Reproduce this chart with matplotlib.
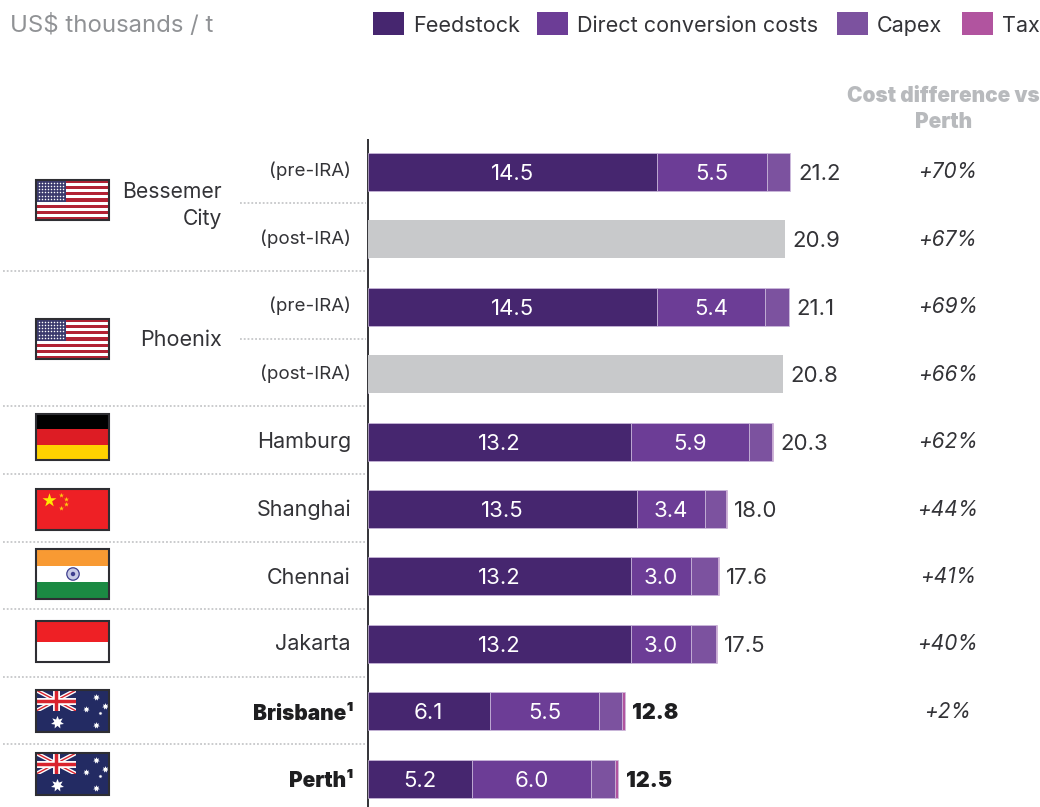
import numpy as np
import matplotlib
matplotlib.use("Agg")
import matplotlib.pyplot as plt
from matplotlib.patches import Rectangle, Circle

plt.rcParams["font.family"] = ["Inter", "DejaVu Sans"]

# ---------------- DATA ----------------
rows       = ["Bessemer pre", "Bessemer post", "Phoenix pre", "Phoenix post", "Hamburg",
              "Shanghai", "Chennai", "Jakarta", "Brisbane", "Perth"]
feedstock  = [14.5, 0, 14.5, 0, 13.2, 13.5, 13.2, 13.2, 6.1, 5.2]
direct     = [5.5, 0, 5.4, 0, 5.9, 3.4, 3.0, 3.0, 5.5, 6.0]
capex      = [1.15, 0, 1.2, 0, 1.15, 1.05, 1.35, 1.25, 1.15, 1.2]
tax        = [0.03, 0, 0.03, 0, 0.05, 0.05, 0.05, 0.05, 0.15, 0.15]
grey_total = [0, 20.9, 0, 20.8, 0, 0, 0, 0, 0, 0]
totals     = [21.2, 20.9, 21.1, 20.8, 20.3, 18.0, 17.6, 17.5, 12.8, 12.5]
diffs      = ["+70%", "+67%", "+69%", "+66%", "+62%", "+44%", "+41%", "+40%", "+2%", ""]
series     = ["Feedstock", "Direct conversion costs", "Capex", "Tax"]
colors     = ["#46266F", "#6C3D96", "#7C529F", "#B1549F"]

TXT = "#333337"
W, H = 1040, 807

fig = plt.figure(figsize=(W / 100, H / 100), dpi=100)

# capa en pixeles para textos, banderas y lineas punteadas
px = fig.add_axes([0, 0, 1, 1])
px.set_xlim(0, W); px.set_ylim(H, 0); px.axis("off")

# ---------------- BARRAS ----------------
x0, y_top, y_bot = 368, 139, 807
ax = fig.add_axes([x0 / W, 0, (W - x0) / W, (y_bot - y_top) / H])
ax.patch.set_alpha(0)
ax.set_xlim(0, (W - x0) / 19.93)
# fila i centrada en 172 + 67.4 * i px
ax.set_ylim((y_bot - 172) / 67.4, (y_top - 172) / 67.4)
ax.axis("off")
ys = np.arange(len(rows))

left = np.zeros(len(rows))
for vals, c in zip([feedstock, direct, capex, tax], colors):
    ax.barh(ys, vals, left=left, height=0.563, color=c, edgecolor="#CDBBDD", linewidth=0.5)
    left += np.array(vals)
ax.barh(ys, grey_total, height=0.563, color="#C8C9CB")

for i in ys:
    if feedstock[i] > 0:
        ax.text(feedstock[i] / 2, i + 0.03, f"{feedstock[i]:.1f}", color="white", fontsize=16,
                ha="center", va="center")
        ax.text(feedstock[i] + direct[i] / 2, i + 0.03, f"{direct[i]:.1f}", color="white", fontsize=16,
                ha="center", va="center")
    bold = rows[i] in ("Brisbane", "Perth")
    ax.annotate(f"{totals[i]:.1f}", (totals[i], i + 0.03), xytext=(6.5 if bold else 5.5, 0), textcoords="offset points",
                ha="left", va="center", fontsize=15.5 if bold else 16, color="#1E1E20" if bold else TXT,
                fontweight="black" if bold else "normal")
    if diffs[i]:
        px.text(948, 172.5 + 67.4 * i, diffs[i], style="italic", fontsize=15, ha="center",
                va="center", color=TXT)

# eje vertical
px.plot([x0, x0], [y_top, y_bot], color="#333337", lw=1.4, zorder=5, solid_capstyle="butt")

# punteadas
dot = dict(color="#C6C7C9", lw=1.3, ls=(0, (1, 1.1)), zorder=1)
for y in [271, 406, 474, 541.5, 609, 677, 744]:
    px.plot([3, x0 - 2], [y, y], **dot)
for y in [203, 339]:
    px.plot([240, x0 - 2], [y, y], **dot)

# ---------------- TEXTOS ----------------
lab = dict(ha="right", va="center", color=TXT)
px.text(351, 171, "(pre-IRA)", fontsize=13.5, **lab)
px.text(351, 239, "(post-IRA)", fontsize=13.5, **lab)
px.text(351, 306, "(pre-IRA)", fontsize=13.5, **lab)
px.text(351, 374, "(post-IRA)", fontsize=13.5, **lab)
px.text(222, 192.5, "Bessemer", fontsize=15.2, **lab)
px.text(222, 218.5, "City", fontsize=15.2, **lab)
px.text(222, 340.5, "Phoenix", fontsize=15.5, **lab)
for name, y in [("Hamburg", 442.5), ("Shanghai", 509.5), ("Chennai", 577.5), ("Jakarta", 644.5)]:
    px.text(351, y, name, fontsize=15.5, **lab)
for name, y in [("Brisbane¹", 714), ("Perth¹", 781)]:
    px.text(354, y, name, fontsize=15, ha="right", va="center", color="#1E1E20", fontweight="black")

px.text(10, 25.5, "US$ thousands / t", fontsize=17.2, color="#909295", va="center")
px.text(943.5, 95.5, "Cost difference vs", fontsize=15, color="#B8BABD", ha="center", va="center", fontweight="black")
px.text(944, 121.5, "Perth", fontsize=15, color="#B8BABD", ha="center", va="center", fontweight="black")

# leyenda
swatch_x = [373, 537, 837, 962]
for name, c, sx in zip(series, colors, swatch_x):
    px.add_patch(Rectangle((sx, 12), 31, 23, color=c, lw=0))
    px.text(sx + 40, 26, name, fontsize=15.5, color=TXT, va="center")


# ---------------- BANDERAS ----------------
FX, FW = 36, 73

def marco(y, h):
    px.add_patch(Rectangle((FX, y), FW, h, fill=False, ec="#2E2E33", lw=1.5, zorder=4))

def bandas(y, h, cols):
    for k, c in enumerate(cols):
        px.add_patch(Rectangle((FX, y + k * h / len(cols)), FW, h / len(cols), color=c, lw=0, zorder=2))

def usa(y, h):
    bandas(y, h, ["#B22234", "#FFFFFF"] * 6 + ["#B22234"])
    px.add_patch(Rectangle((FX, y), 30, h * 7 / 13, color="#3C3B6E", lw=0, zorder=3))
    gx, gy = np.meshgrid(np.linspace(FX + 3, FX + 27, 9), np.linspace(y + 2.5, y + h * 7 / 13 - 2.5, 6))
    px.scatter(gx, gy, s=1.2, color="white", lw=0, zorder=3.5)
    marco(y, h)

def australia(y, h):
    px.add_patch(Rectangle((FX, y), FW, h, color="#232B63", lw=0, zorder=2))
    ux, uy, uw, uh = FX, y, 40, 21
    clip = Rectangle((ux, uy), uw, uh, transform=px.transData)
    px.add_patch(Rectangle((ux, uy), uw, uh, color="#232B63", lw=0, zorder=2.1))
    for a, b, c, lw, z in [((ux, uy), (ux + uw, uy + uh), "white", 3, 2.2),
                           ((ux, uy + uh), (ux + uw, uy), "white", 3, 2.2),
                           ((ux, uy), (ux + uw, uy + uh), "#D9232E", 1, 2.3),
                           ((ux, uy + uh), (ux + uw, uy), "#D9232E", 1, 2.3),
                           ((ux + uw / 2, uy), (ux + uw / 2, uy + uh), "white", 5, 2.4),
                           ((ux, uy + uh / 2), (ux + uw, uy + uh / 2), "white", 5, 2.4),
                           ((ux + uw / 2, uy), (ux + uw / 2, uy + uh), "#D9232E", 2.5, 2.5),
                           ((ux, uy + uh / 2), (ux + uw, uy + uh / 2), "#D9232E", 2.5, 2.5)]:
        l, = px.plot([a[0], b[0]], [a[1], b[1]], color=c, lw=lw, zorder=z, solid_capstyle="butt")
        l.set_clip_path(clip)
    px.scatter([FX + 21], [y + 32], s=90, marker=(7, 1, 0), color="white", lw=0, zorder=3)
    for dx, dy, s in [(60, 7, 24), (69, 16, 24), (50, 19, 22), (64, 23, 8), (60, 35, 24)]:
        px.scatter([FX + dx], [y + dy], s=s, marker=(7, 1, 0), color="white", lw=0, zorder=3)
    marco(y, h)

usa(180, 40)
usa(319, 40)

# Alemania
bandas(414, 46, ["#000000", "#DD1C24", "#FFD200"])
marco(414, 46)

# China
px.add_patch(Rectangle((FX, 489), FW, 41, color="#EE2025", lw=0, zorder=2))
px.scatter([49], [500], s=110, marker="*", color="#FFE900", lw=0, zorder=3)
px.scatter([61, 65.5, 65.5, 61], [494.5, 498.5, 504, 508], s=14, marker="*", color="#FFC90E", lw=0, zorder=3)
marco(489, 41)

# India
bandas(549, 50, ["#F89A33", "#FFFFFF", "#1B8A43"])
px.add_patch(Circle((73, 574), 6.2, fc="#C9CBE6", ec="#3F3F8F", lw=0.9, zorder=3))
px.add_patch(Circle((73, 574), 2.2, fc="#3F3F8F", lw=0, zorder=3.1))
marco(549, 50)

# Indonesia
bandas(621, 41, ["#EE2025", "#FFFFFF"])
marco(621, 41)

australia(690, 42)
australia(753, 42)

fig.savefig("out.png", dpi=100)
plt.close(fig)
